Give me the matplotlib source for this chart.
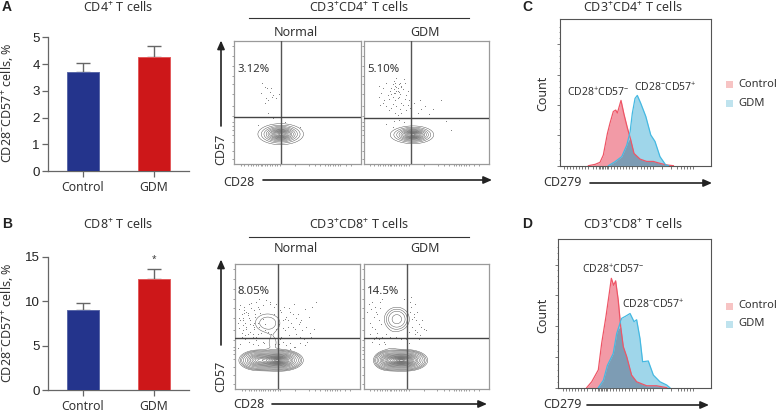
import numpy as np
import matplotlib
matplotlib.use("Agg")
import matplotlib.pyplot as plt
from matplotlib.patches import Rectangle

plt.rcParams['font.family'] = ['Noto Sans', 'DejaVu Sans']
plt.rcParams['mathtext.fontset'] = 'custom'
plt.rcParams['mathtext.rm'] = 'Noto Sans'
plt.rcParams['mathtext.default'] = 'rm'

# ---- bar data ----
groups = ['Control', 'GDM']
cd4_means = [3.70, 4.28]
cd4_errs = [0.33, 0.40]
cd8_means = [9.00, 12.45]
cd8_errs = [0.78, 1.20]
cd4_ticks = [0, 1, 2, 3, 4, 5]
cd8_ticks = [0, 5, 10, 15]

# ---- histogram data (CD279 position, count) ----
c_ctrl_x = [19, 23.4, 26.7, 28.9, 31.6, 33.3, 35.5, 37.1, 38.2, 40.6, 42.6, 44.8, 47, 49.2, 53.2, 57.6, 62, 66.4, 70.9, 75.3]
c_ctrl_y = [0, 0.9, 2.3, 7.3, 22, 29, 37, 38, 36, 44.6, 35, 25.9, 17.8, 8.4, 4.5, 2.9, 2.9, 1.6, 0.5, 0]
c_gdm_x = [32.2, 36.6, 41.1, 44.4, 46.6, 48.1, 49.9, 51.4, 53.6, 57, 60.3, 63.1, 66.4, 70.2, 72]
c_gdm_y = [0, 2.7, 6.2, 14, 23, 35.8, 46, 48, 42.8, 33.7, 21, 16.6, 6.2, 0.5, 0]
d_ctrl_x = [18.7, 22, 26.3, 28.5, 31.3, 33.5, 34.8, 36.3, 37.6, 39.3, 40.9, 42.6, 44.8, 48, 51.3, 57.8, 64.3, 70.9]
d_ctrl_y = [0, 4, 12, 30, 48, 64, 73.7, 69, 72, 59, 41, 27.6, 21, 8.5, 4, 1.3, 1.3, 0]
d_gdm_x = [26.3, 29.6, 32.2, 36, 38.3, 41.5, 44.3, 47, 49.6, 51.3, 53.5, 55.2, 58.9, 62.2, 66.5, 70.9, 73]
d_gdm_y = [0, 5, 15, 23, 36.6, 46.7, 48.3, 50, 44.5, 45.8, 33, 17.5, 18, 8.5, 4, 1.8, 0]

# ---- flow plot blobs: centre x, centre y, spread x, spread y, weight ----
a_norm_blobs = [(36.7, 24.5, 7.6, 3.6, 1.0)]
a_gdm_blobs = [(36, 24, 7.5, 3.1, 0.6), (41, 24, 6.5, 3.0, 1.0)]
b_norm_blobs = [(18, 23, 5, 2.7, 0.55), (27, 23, 5, 2.7, 0.5), (36, 23, 5.8, 2.7, 1.0), (26, 53, 6.3, 4.6, 0.019), (30, 37, 4.2, 6, 0.007)]
b_gdm_blobs = [(20, 23, 4, 2.7, 0.65), (27, 23, 4, 2.7, 0.6), (34, 23, 5.4, 2.7, 1.0), (26.5, 56, 4.7, 4.5, 0.06), (22, 37, 4, 6, 0.006)]
blob_levels = [0.005, 0.01, 0.018, 0.035, 0.07, 0.12, 0.18, 0.25, 0.33, 0.42, 0.5, 0.58, 0.66, 0.73, 0.8, 0.86, 0.91, 0.95, 0.98]
a_levels = [0.06, 0.13, 0.22, 0.32, 0.42, 0.52, 0.6, 0.68, 0.75, 0.81, 0.87, 0.92, 0.96, 0.985]

# ---- flow plot dots ----
a_norm_dx = [22, 24, 26, 21, 28, 30, 31, 33, 25, 27, 29, 24, 35, 27, 52, 40, 19, 31]
a_norm_dy = [66, 63, 62, 58, 59, 55, 56, 54, 54, 52, 62, 50, 57, 42, 30, 34, 32, 38]
a_gdm_dx = [12, 15, 18, 21, 24, 26, 28, 30, 32, 33, 35, 12, 14, 16, 19, 22, 24, 25, 27, 29, 31, 34, 36, 13, 15, 18, 20, 23, 25, 28, 30, 33, 35, 20, 22, 26, 29, 31, 34, 25, 27, 30, 37, 40, 43, 46, 49, 52, 45, 42, 38, 21, 24, 28, 32, 55, 62, 66, 70, 18, 23, 23, 25, 26, 24, 27, 28, 22, 29, 26, 25, 30, 23, 27]
a_gdm_dy = [64, 62, 66, 60, 68, 70, 65, 63, 69, 66, 60, 55, 58, 52, 56, 62, 58, 64, 60, 57, 61, 56, 52, 48, 50, 47, 53, 49, 52, 55, 50, 53, 48, 44, 46, 47, 45, 48, 44, 42, 40, 42, 46, 50, 42, 45, 47, 41, 52, 38, 35, 38, 35, 36, 34, 45, 52, 35, 28, 33, 30, 65, 66, 63, 61, 62, 59, 57, 66, 60, 58, 64, 55, 54]
b_norm_dx = [3, 5, 7, 9, 11, 13, 15, 17, 4, 6, 8, 10, 12, 14, 16, 18, 20, 22, 24, 3, 6, 9, 12, 15, 18, 21, 5, 8, 11, 14, 17, 33, 36, 39, 41, 44, 47, 50, 53, 56, 59, 62, 35, 38, 42, 45, 48, 51, 54, 57, 60, 34, 37, 40, 43, 46, 49, 52, 55, 31, 33, 36, 28, 24, 19, 63, 65, 2, 4, 58, 61,
             4, 7, 10, 13, 16, 19, 22, 25, 28, 31, 6, 9, 12, 15, 18, 5, 8, 11, 14, 17, 20, 23, 26, 29, 32, 35, 38, 41, 44, 47, 37, 40, 43, 46, 49, 52, 34, 38, 42, 46, 3, 7, 11, 15, 19, 2, 6, 10, 14, 18, 22, 44, 48, 52, 56]
b_norm_dy = [64, 60, 66, 62, 68, 65, 63, 70, 55, 57, 53, 59, 55, 51, 58, 66, 61, 56, 52, 49, 47, 50, 46, 48, 44, 45, 42, 43, 41, 44, 42, 68, 63, 66, 58, 62, 68, 60, 55, 64, 58, 66, 52, 55, 50, 53, 48, 52, 47, 50, 45, 45, 42, 47, 43, 41, 44, 42, 40, 60, 48, 40, 68, 47, 72, 48, 70, 33, 36, 38, 42,
             67, 63, 61, 69, 60, 64, 67, 71, 70, 66, 51, 48, 52, 50, 53, 45, 40, 38, 42, 39, 41, 37, 46, 44, 36, 36, 38, 35, 37, 34, 62, 56, 65, 60, 57, 54, 55, 49, 55, 50, 57, 61, 57, 53, 50, 53, 55, 44, 36, 35, 38, 32, 34, 37, 35]
b_gdm_dx = [4, 6, 8, 10, 12, 14, 9, 11, 7, 5, 13, 15, 38, 40, 42, 44, 46, 48, 36, 39, 41, 43, 37, 45, 47, 50, 15, 18, 32, 35, 38, 41, 10, 12, 16, 34, 36, 30, 26, 21, 44, 12, 8, 17, 5, 7, 3, 9, 11, 13, 7, 40, 43, 37, 39, 41, 35]
b_gdm_dy = [68, 64, 58, 62, 55, 52, 48, 45, 50, 53, 70, 72, 66, 60, 55, 52, 50, 48, 46, 50, 44, 46, 70, 43, 55, 47, 42, 44, 72, 43, 74, 68, 42, 40, 38, 40, 37, 40, 42, 42, 40, 36, 40, 36, 44, 38, 62, 66, 60, 65, 70, 58, 62, 62, 56, 47, 38]

flow_ticks_y = [4, 11, 18, 24, 28, 31, 34, 39, 47, 57, 65, 72, 80, 88, 96]
flow_ticks_x = [5, 8, 11, 13, 15, 17, 19, 21, 22, 24, 26, 28, 30, 32, 34, 36, 48, 59, 64, 68, 72, 74, 76, 78, 80, 82, 84, 88, 92]
hist_ticks_x = [3, 5, 7, 9, 11, 13, 15, 17, 19, 22, 24, 26, 27, 28, 29, 30, 31, 32, 34, 36, 38, 40, 42, 44, 46, 48, 51, 54, 56, 58, 60, 62, 68, 74, 78, 80, 82, 84, 86, 88]

W, H = 779, 413
fig = plt.figure(figsize=(W / 100, H / 100), dpi=100, facecolor='white')
ov = fig.add_axes([0, 0, 1, 1], zorder=5)
ov.set_xlim(0, W); ov.set_ylim(H, 0); ov.axis('off'); ov.patch.set_alpha(0)

TXT = '#333333'
FS = 9

def panel(x0, y0, x1, y1):
    return fig.add_axes([x0 / W, 1 - y1 / H, (x1 - x0) / W, (y1 - y0) / H])

def label(x, y, s, ha='center', fs=FS, rot=0, **kw):
    ov.text(x, y, s, ha=ha, va='center', fontsize=fs, rotation=rot, color=TXT, **kw)

def arrow(x0, y0, x1, y1):
    ov.annotate('', xy=(x1, y1), xytext=(x0, y0),
                arrowprops=dict(arrowstyle='-|>,head_length=0.5,head_width=0.22', color='#222222', lw=1.2,
                                shrinkA=0, shrinkB=0))

def bars(box, means, errs, ticks, ymax):
    ax = panel(*box)
    ax.set_xlim(-0.493, 1.493); ax.set_ylim(0, ymax)
    ax.bar([0, 1], means, width=0.46, color=['#24348c', '#cd1719'],
           edgecolor=['#5a68a8', '#e25a5c'], linewidth=0.7, zorder=3)
    ax.errorbar([0, 1], means, yerr=[[0, 0], errs], fmt='none', ecolor='#666666',
                elinewidth=1, capsize=5, capthick=1, zorder=2)
    ax.set_yticks(ticks)
    ax.set_xticks([0, 1]); ax.set_xticklabels(groups, fontsize=8.8, color=TXT)
    ax.tick_params(axis='y', labelsize=9.6, labelcolor='#222222', length=4, width=0.9, color='#666666', pad=2)
    ax.tick_params(axis='x', length=4, width=0.9, color='#666666', pad=3)
    for t in ax.get_yticklabels():
        t.set_fontfamily('Liberation Sans')
    for s in ('top', 'right'):
        ax.spines[s].set_visible(False)
    for s in ('left', 'bottom'):
        ax.spines[s].set_color('#666666'); ax.spines[s].set_linewidth(0.9)
    ax.patch.set_alpha(0)
    return ax

def flow(box, blobs, levels, dx, dy, vx, hy):
    ax = panel(*box)
    ax.set_xlim(0, 100); ax.set_ylim(0, 100)
    gx, gy = np.meshgrid(np.linspace(0, 100, 500), np.linspace(0, 100, 500))
    z = np.zeros_like(gx)
    for cx, cy, sx, sy, w in blobs:
        z = z + w * np.exp(-((gx - cx) / sx) ** 2 / 2 - ((gy - cy) / sy) ** 2 / 2)
    z = z / z.max()
    ax.contour(gx, gy, z, levels=levels, colors='#4a4a4a', linewidths=0.32, zorder=2)
    ax.scatter(dx, dy, s=0.45, color='#777777', linewidths=0, zorder=2)
    ax.axvline(vx, color='#555555', lw=1.0, zorder=3)
    ax.axhline(hy, color='#444444', lw=1.0, zorder=3)
    ax.set_xticks(flow_ticks_x); ax.set_yticks(flow_ticks_y)
    ax.set_xticklabels([]); ax.set_yticklabels([])
    ax.tick_params(length=1.5, width=0.4, color='#555555', pad=0)
    for s in ax.spines.values():
        s.set_color('#9a9a9a'); s.set_linewidth(0.9)
    return ax

def merged(x1, y1, x2, y2):
    g = np.unique(np.concatenate([x1, x2]))
    return g, np.minimum(np.interp(g, x1, y1, left=0, right=0), np.interp(g, x2, y2, left=0, right=0))

def hist(box, cx, cy, gx, gy):
    ax = panel(*box)
    ax.set_xlim(0, 100); ax.set_ylim(0, 100)
    ax.fill_between(cx, cy, color='#f29aa6', lw=0, zorder=2)
    ax.fill_between(gx, gy, color='#9fd6ea', lw=0, zorder=2)
    mx, my = merged(cx, cy, gx, gy)
    ax.fill_between(mx, my, color='#7d9cb4', lw=0, zorder=3)
    ax.plot(cx, cy, color='#ee5566', lw=0.9, zorder=4)
    ax.plot(gx, gy, color='#45b9e2', lw=0.9, zorder=4)
    ax.set_xticks(hist_ticks_x); ax.set_xticklabels([])
    ax.set_yticks([0, 20.7, 41.5, 62.2, 83]); ax.set_yticklabels([])
    ax.set_yticks([4, 8, 12, 16, 25, 29, 33, 37, 46, 50, 54, 58, 67, 71, 75, 79, 87, 91, 95], minor=True)
    ax.tick_params(axis='both', length=2, width=0.5, color='#444444')
    ax.tick_params(axis='y', which='minor', length=1, width=0.4, color='#444444')
    for s in ax.spines.values():
        s.set_color('#555555'); s.set_linewidth(0.8)
    return ax

# --- A / B bars
bars((48, 37.3, 189, 171), cd4_means, cd4_errs, cd4_ticks, 5)
bars((48, 256.7, 189, 390.3), cd8_means, cd8_errs, cd8_ticks, 15)
YL = 'CD28$^{-}$CD57$^{+}$ cells, %'
label(7, 103, YL, rot=90)
label(7, 323, YL, rot=90)
label(118, 7, 'CD4$^{+}$ T cells')
label(118, 224, 'CD8$^{+}$ T cells')
label(154, 259, '*', fs=6)
for x, y, s in [(7, 7, 'A'), (7, 224, 'B'), (527, 7, 'C'), (527, 224, 'D')]:
    ov.text(x, y, s, ha='center', va='center', fontsize=10, fontweight='bold',
            family='Liberation Sans', color='#222222')

# --- flow panels
flow((234.3, 41.3, 360.7, 164.3), a_norm_blobs, a_levels, a_norm_dx, a_norm_dy, 36.7, 38.5)
flow((364, 41.3, 488.7, 164.3), a_gdm_blobs, a_levels, a_gdm_dx, a_gdm_dy, 37.4, 37.5)
flow((235.3, 264.3, 359.7, 389), b_norm_blobs, blob_levels, b_norm_dx, b_norm_dy, 34.5, 40.5)
flow((363.7, 264.3, 488.7, 389), b_gdm_blobs, blob_levels, b_gdm_dx, b_gdm_dy, 34.7, 40.7)

for ty, ly, ny, s in [(7, 18, 32, 'CD3$^{+}$CD4$^{+}$ T cells'), (224, 237, 249, 'CD3$^{+}$CD8$^{+}$ T cells')]:
    label(359, ty, s)
    ov.plot([249, 469], [ly, ly], color='#333333', lw=0.8)
    label(296, ny, 'Normal')
    label(425, ny, 'GDM')
label(237, 69, '3.12%', ha='left', fs=8.2)
label(367, 69, '5.10%', ha='left', fs=8.2)
label(238, 291, '8.05%', ha='left', fs=8.2)
label(367, 291, '14.5%', ha='left', fs=8.2)
arrow(221, 126, 221, 40.5)
arrow(221, 345, 221, 259.5)
label(221, 149, 'CD57', rot=90)
label(221, 376, 'CD57', rot=90)
label(223, 182, 'CD28', ha='left')
label(233, 404, 'CD28', ha='left')
arrow(263, 180, 492, 180)
arrow(272, 404, 487, 404)

# --- C / D histograms
hist((559.7, 19.3, 710.7, 165.7), c_ctrl_x, c_ctrl_y, c_gdm_x, c_gdm_y)
hist((558, 239.3, 711.3, 387.7), d_ctrl_x, d_ctrl_y, d_gdm_x, d_gdm_y)
label(633, 7, 'CD3$^{+}$CD4$^{+}$ T cells')
label(633, 224, 'CD3$^{+}$CD8$^{+}$ T cells')
label(543, 93, 'Count', rot=90)
label(543, 315, 'Count', rot=90)
label(543, 182, 'CD279', ha='left')
label(543, 405, 'CD279', ha='left')
arrow(590, 183, 712, 183)
arrow(587, 405, 709, 405)
POS = 'CD28$^{+}$CD57$^{-}$'
NEG = 'CD28$^{-}$CD57$^{+}$'
label(598, 93, POS, fs=7.5)
label(665, 88, NEG, fs=7.5)
label(613, 270, POS, fs=7.5)
label(653, 305, NEG, fs=7.5)
for cy, gy in [(84.7, 103), (306, 324)]:
    ov.add_patch(Rectangle((726.5, cy - 3.5), 7, 7, color='#f7c4c4', lw=0))
    ov.add_patch(Rectangle((726.5, gy - 3.5), 7, 7, color='#bfe3ee', lw=0))
    label(738.5, cy, 'Control', ha='left', fs=8)
    label(738.5, gy, 'GDM', ha='left', fs=8)

fig.savefig('out.png', dpi=100)
